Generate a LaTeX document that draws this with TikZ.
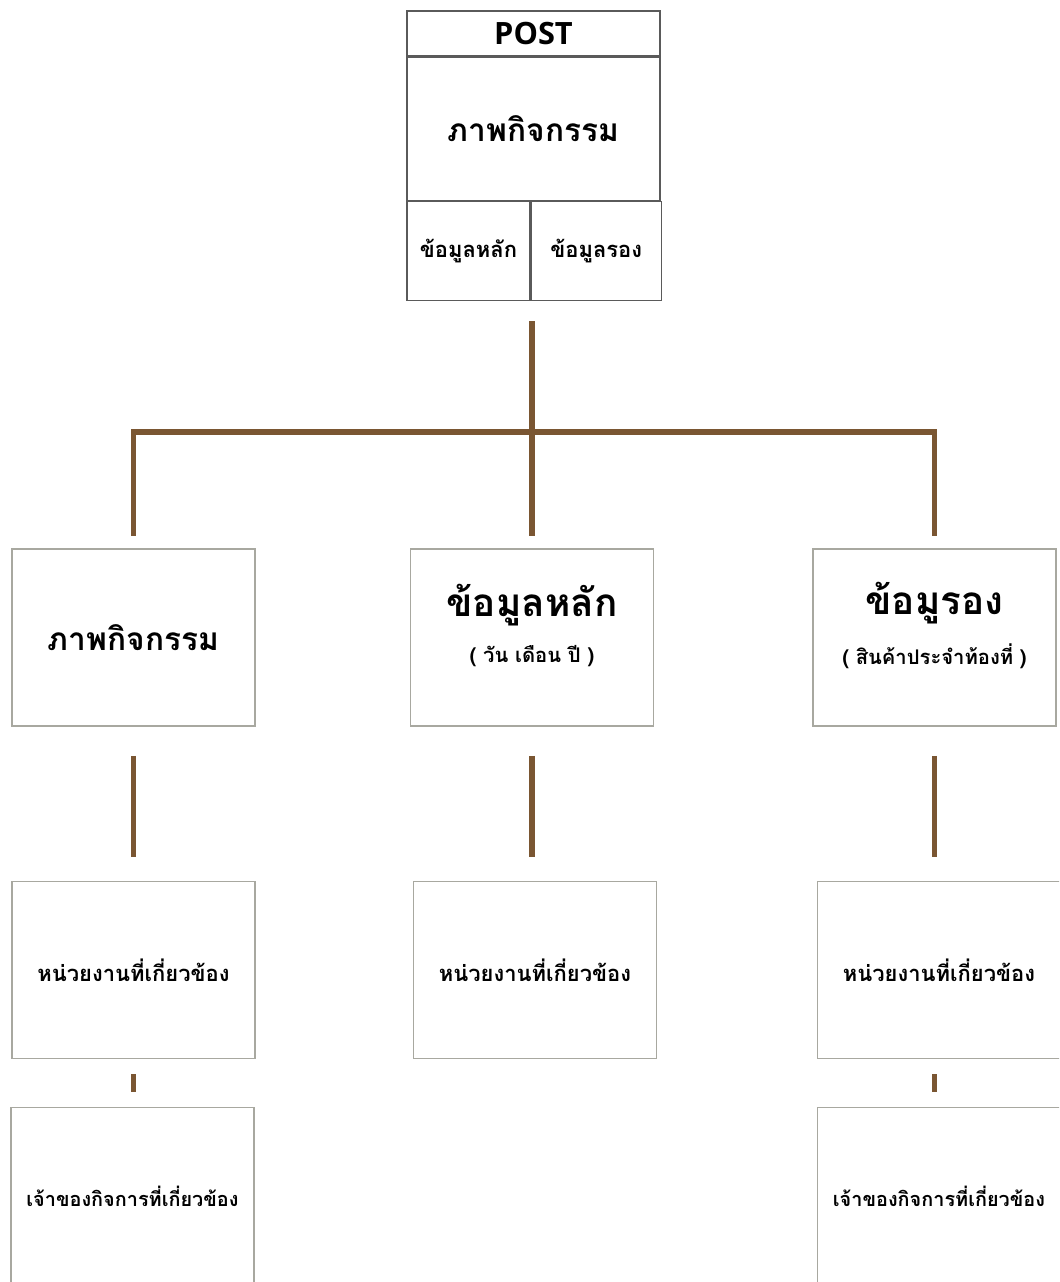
\documentclass[tikz,border=0pt]{standalone}
\usepackage{fontspec}
\newfontfamily\thaifont[Script=Thai]{Loma}
\newfontfamily\latinfont{Open Sans}
\usepackage{tikz}
\usetikzlibrary{positioning}
\definecolor{trunkbrown}{HTML}{7A5632}
\definecolor{boxgray}{HTML}{A8A8A0}
\definecolor{topgray}{HTML}{5A5A5A}
\tikzstyle{cell} = [rectangle, draw=topgray, line width=0.7pt, inner sep=0pt, text centered]
\tikzstyle{card} = [rectangle, draw=boxgray, line width=0.9pt, minimum width=4.86cm, minimum height=3.54cm, inner sep=1pt, text centered, align=center, font=\thaifont\bfseries]
\tikzstyle{branch} = [draw=trunkbrown, line width=3.4pt]

\begin{document}
\begin{tikzpicture}[x=0.02cm, y=-0.02cm]
    \useasboundingbox (0,0) rectangle (1059,1282);
    \clip (0,0) rectangle (1059,1282);
    % top box
    \node (post) [cell, minimum width=5.06cm, minimum height=0.9cm, font=\latinfont\bfseries\fontsize{17.5}{20}\selectfont] at (533.5,33.5) {\raisebox{-2pt}{POST}};
    \node (topimg) [cell, minimum width=5.06cm, minimum height=2.86cm, below=0pt of post, font=\thaifont\bfseries\fontsize{18}{22}\selectfont] {ภาพกิจกรรม};
    \node (topmain) [cell, minimum width=2.46cm, minimum height=1.98cm, below=0pt of topimg.south west, anchor=north west, font=\thaifont\bfseries\fontsize{12.5}{14}\selectfont] {ข้อมูลหลัก};
    \node (topsub) [cell, minimum width=2.6cm, minimum height=1.98cm, right=0pt of topmain, font=\thaifont\bfseries\fontsize{12.5}{14}\selectfont] {ข้อมูลรอง};

    % first row
    \node (act) [card, font=\thaifont\bfseries\fontsize{18}{22}\selectfont] at (133.5,637.5) {ภาพกิจกรรม};
    \node (main) [card] at (532,637.5) {{\fontsize{22}{26}\selectfont ข้อมูลหลัก}\\[10pt]{\fontsize{11.5}{14}\selectfont ( วัน เดือน ปี )}\\[4pt]};
    \node (sub) [card] at (934.5,637.5) {{\fontsize{22}{26}\selectfont ข้อมูรอง}\\[10pt]{\fontsize{11.5}{14}\selectfont ( สินค้าประจำท้องที่ )}\\[4pt]};

    % second row
    \node (org1) [card, font=\thaifont\bfseries\fontsize{12.5}{15}\selectfont] at (133.5,970) {หน่วยงานที่เกี่ยวข้อง};
    \node (org2) [card, font=\thaifont\bfseries\fontsize{12.5}{15}\selectfont] at (535,970) {หน่วยงานที่เกี่ยวข้อง};
    \node (org3) [card, font=\thaifont\bfseries\fontsize{12.5}{15}\selectfont] at (939,970) {หน่วยงานที่เกี่ยวข้อง};

    % third row (runs off the page)
    \node (own1) [card, font=\thaifont\bfseries\fontsize{11.3}{14}\selectfont] at (132.5,1196) {เจ้าของกิจการที่เกี่ยวข้อง};
    \node (own3) [card, font=\thaifont\bfseries\fontsize{11.3}{14}\selectfont] at (939,1196) {เจ้าของกิจการที่เกี่ยวข้อง};

    \coordinate (hub) at (532,432);
    \draw [branch, shorten <=0.4cm] (hub |- topmain.south) -- (hub);
    \draw [branch, shorten >=0.24cm] (hub) -| (act.north);
    \draw [branch, shorten >=0.24cm] (hub) -- (main.north);
    \draw [branch, shorten >=0.24cm] (hub) -| (sub.north);
    \draw [branch, shorten <=0.58cm, shorten >=0.48cm] (act.south) -- (act.south |- org1.north);
    \draw [branch, shorten <=0.58cm, shorten >=0.48cm] (main.south) -- (main.south |- org2.north);
    \draw [branch, shorten <=0.58cm, shorten >=0.48cm] (sub.south) -- (sub.south |- org3.north);
    \draw [branch, shorten <=0.3cm, shorten >=0.3cm] (act.south |- org1.south) -- (act.south |- own1.north);
    \draw [branch, shorten <=0.3cm, shorten >=0.3cm] (sub.south |- org3.south) -- (sub.south |- own3.north);
\end{tikzpicture}
\end{document}
